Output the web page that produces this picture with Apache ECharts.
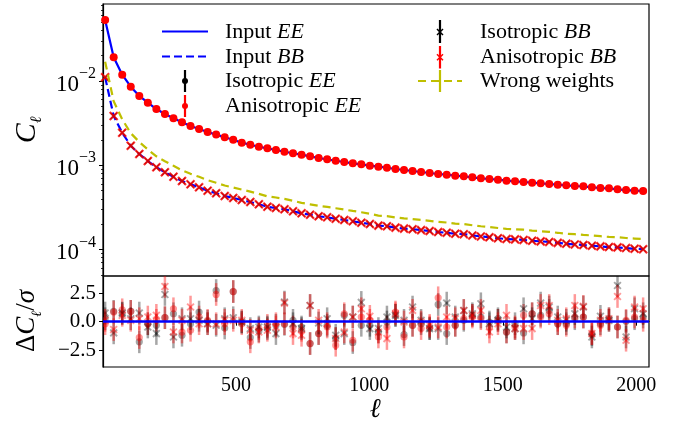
<!DOCTYPE html>
<html>
<head>
<meta charset="utf-8">
<script src="https://cdn.jsdelivr.net/npm/echarts@6/dist/echarts.min.js"></script>
<style>html,body{margin:0;padding:0;background:#fff}#c{width:683px;height:429px}</style>
</head>
<body>
<div id="c"></div>
<script>
// ---- data ----
const ell = [10,42,74,106,138,170,202,234,266,298,330,362,394,426,458,490,522,554,586,618,650,682,714,746,778,810,842,874,906,938,970,1002,1034,1066,1098,1130,1162,1194,1226,1258,1290,1322,1354,1386,1418,1450,1482,1514,1546,1578,1610,1642,1674,1706,1738,1770,1802,1834,1866,1898,1930,1962,1994,2026];
const inputEE = [0.0530,0.0191,0.01188,0.00855,0.00664,0.00553,0.00465,0.00406,0.00361,0.00324,
 0.00292,0.00269,0.00248,0.00231,0.00215,0.00201,0.001853,0.001754,0.001660,0.001589,
 0.001517,0.001448,0.001387,0.001335,0.001277,0.001219,0.001177,0.001132,0.001093,0.001054,
 0.001026,0.000988,0.000961,0.000935,0.000903,0.000878,0.000855,0.000832,0.000809,0.000787,
 0.000773,0.000752,0.000739,0.000719,0.000700,0.000687,0.000674,0.000656,0.000645,0.000633,
 0.000621,0.000611,0.000599,0.000588,0.000578,0.000567,0.000562,0.000547,0.000537,0.000532,
 0.000518,0.000508,0.000499,0.000495];
const inputBB = [0.01106,0.00384,0.00243,0.001706,0.001360,0.001123,0.000946,0.000825,0.000731,0.000650,
 0.000594,0.000547,0.000499,0.000465,0.000432,0.000409,0.000387,0.000366,0.000344,0.000322,
 0.000311,0.000300,0.000284,0.000269,0.000259,0.000248,0.000241,0.000232,0.000224,0.000216,
 0.000208,0.000201,0.000192,0.000189,0.000182,0.000177,0.000174,0.000170,0.000166,0.000161,
 0.000158,0.000154,0.000152,0.000147,0.000143,0.000140,0.000136,0.000133,0.000132,0.000130,
 0.000127,0.000125,0.000123,0.000120,0.000117,0.000115,0.000113,0.000111,0.000109,0.000107,
 0.000106,0.000104,0.000102,0.000101];
const wrongWeights = [0.01692,0.00576,0.00351,0.002405,0.001888,0.001539,0.001278,0.001115,0.000987,0.000871,
 0.000791,0.000729,0.000665,0.000619,0.000575,0.000545,0.000515,0.000487,0.000458,0.000428,
 0.000414,0.000399,0.000378,0.000358,0.000344,0.000330,0.000320,0.000309,0.000298,0.000287,
 0.000277,0.000265,0.000253,0.000249,0.000240,0.000234,0.000230,0.000224,0.000219,0.000213,
 0.000209,0.000203,0.000201,0.000194,0.000189,0.000185,0.000180,0.000176,0.000174,0.000172,
 0.000168,0.000165,0.000162,0.000158,0.000154,0.000152,0.000149,0.000147,0.000144,0.000141,
 0.000140,0.000137,0.000135,0.000133];
const residIsoEE = [0.26,0.91,0.70,0.91,-1.78,-0.18,-0.32,0.35,0.70,-1.20,
 -0.18,0.85,0.03,2.75,-0.56,2.66,-0.03,-1.40,-0.82,-0.61,
 -0.32,-0.23,0.12,-0.47,-1.93,-1.05,-0.32,-1.49,0.56,-1.84,
 -0.32,-0.32,-0.91,-0.03,0.56,-1.14,-0.32,-0.18,-0.61,1.52,
 -1.05,-0.32,0.12,0.56,0.41,-0.03,0.26,-0.91,-0.18,-0.99,
 0.70,0.56,0.99,-0.18,-0.18,0.26,0.41,-1.14,-0.18,0.26,
 -0.47,0.03,0.26,0.41];
const residAnisoEE = [-0.18,0.85,1.05,0.91,-1.40,-0.18,0.12,0.35,1.14,-0.91,
 -0.76,0.41,0.12,2.40,-0.18,2.66,-0.18,-1.78,-0.61,-0.32,
 -0.18,-0.18,-0.47,-0.76,-1.93,-1.05,-0.47,-2.08,0.70,-1.64,
 0.41,0.12,-1.35,-0.47,0.85,-1.35,-0.32,-0.61,-0.47,2.11,
 -0.47,-0.32,0.26,0.41,0.26,-0.47,0.12,-0.91,-0.47,0.56,
 0.70,0.41,0.70,-0.18,-0.32,0.41,0.41,-1.05,-0.32,0.12,
 -0.47,0.12,0.41,0.12];
const residIsoBB = [0.76,-0.99,0.76,0.26,0.76,-0.47,-1.05,2.40,-1.35,0.26,
 0.26,0.12,-0.18,-0.32,0.26,0.35,-0.03,-0.61,-0.47,-0.47,
 -1.05,1.73,-0.18,-0.61,1.43,-0.12,0.26,-1.20,-1.05,0.41,
 1.70,-0.61,-0.61,0.41,0.56,0.12,1.29,0.12,-0.61,-0.61,
 1.64,0.41,0.99,0.70,1.58,-0.18,0.12,-0.47,-0.61,1.14,
 0.26,1.64,1.29,0.41,0.12,0.70,1.29,-1.35,0.47,0.12,
 3.19,-1.35,1.14,0.70];
const residAnisoBB = [0.12,-0.70,0.56,0.12,0.26,0.41,0.56,3.10,-0.91,0.12,
 1.29,-0.18,-0.18,-0.18,0.12,0.12,0.12,-0.76,-0.91,-0.76,
 -0.47,1.64,-1.05,-1.20,1.43,0.12,-0.18,-1.49,-0.91,0.41,
 1.14,0.47,-0.91,-1.49,0.70,-0.03,1.00,-0.03,-0.32,-0.47,
 0.41,0.26,0.99,0.56,0.99,-0.91,-0.18,0.56,-0.61,-0.61,
 -0.61,1.43,1.43,0.12,0.26,1.43,1.35,-1.05,0.12,0.26,
 2.22,-1.64,1.29,1.14];
const xTicks = [500,1000,1500,2000];
const logMajor = [1e-4,1e-3,1e-2];
const logMinor = [5e-5,6e-5,7e-5,8e-5,9e-5,2e-4,3e-4,4e-4,5e-4,6e-4,7e-4,8e-4,9e-4,
 2e-3,3e-3,4e-3,5e-3,6e-3,7e-3,8e-3,9e-3,2e-2,3e-2,4e-2,5e-2,6e-2,7e-2,8e-2];
const residTicks = [-2.5,0,2.5];

// ---- chart ----
const SERIF = "'Liberation Serif','DejaVu Serif',serif";
const pts = arr => ell.map((l,i)=>[l,arr[i]]);
const X_PATH = 'path://M0,0L10,10M10,0L0,10';

function residSeries(name, vals, color, opacity, marker){
  return {
    type:'custom', name, xAxisIndex:1, yAxisIndex:1, clip:true, silent:true,
    data: pts(vals),
    renderItem:(params, api)=>{
      const x = api.value(0), v = api.value(1);
      const p = api.coord([x,v]), a = api.coord([x,v+1]), b = api.coord([x,v-1]);
      const ch = [{type:'line', shape:{x1:a[0],y1:a[1],x2:b[0],y2:b[1]}, style:{stroke:color,lineWidth:2.5,opacity}}];
      if (marker==='o') ch.push({type:'circle', shape:{cx:p[0],cy:p[1],r:3.6}, style:{fill:color,opacity}});
      else {
        const s=3.4;
        ch.push({type:'line', shape:{x1:p[0]-s,y1:p[1]-s,x2:p[0]+s,y2:p[1]+s}, style:{stroke:color,lineWidth:1.9,opacity}});
        ch.push({type:'line', shape:{x1:p[0]-s,y1:p[1]+s,x2:p[0]+s,y2:p[1]-s}, style:{stroke:color,lineWidth:1.9,opacity}});
      }
      return {type:'group', children:ch};
    }
  };
}

const chart = echarts.init(document.getElementById('c'), null, {renderer:'canvas'});
const legendText = (x,y,t)=>({type:'text', x, y, style:{text:t, align:'left', verticalAlign:'middle',
  rich:{r:{fontFamily:SERIF,fontSize:22,fill:'#000'}, i:{fontFamily:SERIF,fontSize:22,fontStyle:'italic',fill:'#000'}}}});
const xMark = (cx,cy,s,color)=>[
  {type:'line', shape:{x1:cx-s,y1:cy-s,x2:cx+s,y2:cy+s}, style:{stroke:color,lineWidth:1.5}},
  {type:'line', shape:{x1:cx-s,y1:cy+s,x2:cx+s,y2:cy-s}, style:{stroke:color,lineWidth:1.5}}
];

const option = {
  backgroundColor:'#fff',
  animation:false,
  grid:[
    {left:103, right:34, top:4, height:272, show:true, borderColor:'#000', borderWidth:1.2, backgroundColor:'transparent', outerBoundsMode:'none'},
    {left:103, right:34, top:276, height:91, show:true, borderColor:'#000', borderWidth:1.2, backgroundColor:'transparent', outerBoundsMode:'none'}
  ],
  xAxis:[
    {type:'value', gridIndex:0, min:2, max:2048, axisLine:{show:false}, axisTick:{show:false}, axisLabel:{show:false}, splitLine:{show:false}},
    {type:'value', gridIndex:1, min:2, max:2048, axisLine:{show:true,lineStyle:{color:'#000',width:1.2}},
     axisTick:{show:true, customValues:xTicks, length:4, lineStyle:{color:'#000',width:1}},
     axisLabel:{show:true, customValues:xTicks, margin:9, color:'#000', fontFamily:SERIF, fontSize:20,
       formatter:v=>String(v)},
     splitLine:{show:false}}
  ],
  yAxis:[
    {type:'log', gridIndex:0, position:'left', min:4.85e-5, max:0.082, logBase:10,
     axisLine:{show:true,lineStyle:{color:'#000',width:1.2}},
     axisTick:{show:true, customValues:logMajor, length:4, lineStyle:{color:'#000',width:1}},
     axisLabel:{show:true, customValues:logMajor, margin:7, color:'#000',
       formatter:v=>{const e=Math.round(Math.log10(v)); return '{b|10}{e|\u2212'+(-e)+'}';},
       rich:{b:{fontFamily:SERIF,fontSize:23,verticalAlign:'bottom',lineHeight:30},
             e:{fontFamily:SERIF,fontSize:16,verticalAlign:'top',lineHeight:30}}},
     splitLine:{show:false}},
    {type:'value', gridIndex:1, position:'left', min:-4.0, max:4.03,
     axisLine:{show:true,lineStyle:{color:'#000',width:1.2}},
     axisTick:{show:true, customValues:residTicks, length:4, lineStyle:{color:'#000',width:1}},
     axisLabel:{show:true, customValues:residTicks, margin:7, color:'#000', fontFamily:SERIF, fontSize:21,
       formatter:v=>(v<0?'\u2212':'')+Math.abs(v).toFixed(1)},
     splitLine:{show:false}},
    {type:'log', gridIndex:0, position:'left', offset:0, min:4.85e-5, max:0.082, logBase:10,
     axisLine:{show:false}, axisLabel:{show:false}, splitLine:{show:false},
     axisTick:{show:true, customValues:logMinor, length:2, lineStyle:{color:'#000',width:0.8}}}
  ],
  series:[
    {type:'line', name:'Input EE', xAxisIndex:0, yAxisIndex:0, data:pts(inputEE), showSymbol:false, symbol:'none',
     lineStyle:{color:'#0000ff', width:2.2}, z:2},
    {type:'line', name:'Input BB', xAxisIndex:0, yAxisIndex:0, data:pts(inputBB), showSymbol:false, symbol:'none',
     lineStyle:{color:'#0000ff', width:2.2, type:[8,4]}, z:2},
    {type:'scatter', name:'Isotropic EE', xAxisIndex:0, yAxisIndex:0, data:pts(inputEE), symbol:'circle', symbolSize:6.5,
     itemStyle:{color:'#000', opacity:1}, z:3},
    {type:'scatter', name:'Anisotropic EE', xAxisIndex:0, yAxisIndex:0, data:pts(inputEE), symbol:'circle', symbolSize:8,
     itemStyle:{color:'#ff0000', opacity:1}, z:4},
    {type:'scatter', name:'Isotropic BB', xAxisIndex:0, yAxisIndex:0, data:pts(inputBB), symbol:X_PATH, symbolSize:6.5,
     itemStyle:{color:'transparent', borderColor:'#000', borderWidth:1.2}, z:3},
    {type:'scatter', name:'Anisotropic BB', xAxisIndex:0, yAxisIndex:0, data:pts(inputBB), symbol:X_PATH, symbolSize:8,
     itemStyle:{color:'transparent', borderColor:'#ff0000', borderWidth:2.2}, z:4},
    {type:'line', name:'Wrong weights', xAxisIndex:0, yAxisIndex:0, data:pts(wrongWeights), showSymbol:false, symbol:'none',
     lineStyle:{color:'#bfbf00', width:2.2, type:[8,5]}, z:5},
    residSeries('Isotropic EE res', residIsoEE, '#000000', 0.35, 'o'),
    residSeries('Anisotropic EE res', residAnisoEE, '#ff0000', 0.4, 'o'),
    residSeries('Isotropic BB res', residIsoBB, '#000000', 0.35, 'x'),
    residSeries('Anisotropic BB res', residAnisoBB, '#ff0000', 0.4, 'x'),
    {type:'line', name:'zero', xAxisIndex:1, yAxisIndex:1, data:[], z:10,
     markLine:{silent:true, symbol:'none', label:{show:false}, data:[{yAxis:0}],
       lineStyle:{color:'#0000ff', width:2.5, type:'solid'}, emphasis:{disabled:true}}}
  ],
  graphic:[
    // legend column 1
    {type:'line', shape:{x1:162,y1:31.5,x2:208,y2:31.5}, style:{stroke:'#0000ff',lineWidth:2.2}},
    legendText(225,32,'{r|Input }{i|EE}'),
    {type:'line', shape:{x1:162,y1:56.5,x2:208,y2:56.5}, style:{stroke:'#0000ff',lineWidth:2.2,lineDash:[8,4]}},
    legendText(225,57,'{r|Input }{i|BB}'),
    {type:'line', shape:{x1:185,y1:70,x2:185,y2:92}, style:{stroke:'#000',lineWidth:2.2}},
    {type:'circle', shape:{cx:185,cy:81,r:3}, style:{fill:'#000'}},
    legendText(225,81,'{r|Isotropic }{i|EE}'),
    {type:'line', shape:{x1:185,y1:95,x2:185,y2:117}, style:{stroke:'#ff0000',lineWidth:2.2}},
    {type:'circle', shape:{cx:185,cy:106,r:3}, style:{fill:'#ff0000'}},
    legendText(225,106,'{r|Anisotropic }{i|EE}'),
    // legend column 2
    {type:'line', shape:{x1:440,y1:20,x2:440,y2:43}, style:{stroke:'#000',lineWidth:2.2}},
    ...xMark(440,32,3,'#000'),
    legendText(480,32,'{r|Isotropic }{i|BB}'),
    {type:'line', shape:{x1:440,y1:46,x2:440,y2:68.5}, style:{stroke:'#ff0000',lineWidth:2.2}},
    ...xMark(440,57.3,3,'#ff0000'),
    legendText(480,57,'{r|Anisotropic }{i|BB}'),
    {type:'line', shape:{x1:418,y1:81,x2:462,y2:81}, style:{stroke:'#bfbf00',lineWidth:2.2,lineDash:[8,5]}},
    {type:'line', shape:{x1:440,y1:70,x2:440,y2:92}, style:{stroke:'#bfbf00',lineWidth:2.2}},
    legendText(480,81,'{r|Wrong weights}'),
    // axis titles
    {type:'text', x:375, y:410, style:{text:'\u2113', align:'center', verticalAlign:'middle',
      font:"italic 27px 'DejaVu Serif',serif", fill:'#000'}},
    {type:'text', x:27, y:130, rotation:Math.PI/2, style:{text:'{c|C}{s|\u2113}', align:'center', verticalAlign:'middle',
      rich:{c:{fontFamily:SERIF,fontSize:30,fontStyle:'italic',fill:'#000',verticalAlign:'middle',lineHeight:36},
            s:{fontFamily:"'DejaVu Serif',serif",fontSize:16,fontStyle:'italic',fill:'#000',verticalAlign:'bottom',lineHeight:36}}}},
    {type:'text', x:27, y:321, rotation:Math.PI/2, style:{text:'{d|\u0394}{c|C}{s|\u2113}{d|/}{c|\u03c3}', align:'center', verticalAlign:'middle',
      rich:{d:{fontFamily:SERIF,fontSize:27,fill:'#000',verticalAlign:'middle',lineHeight:34},
            c:{fontFamily:SERIF,fontSize:27,fontStyle:'italic',fill:'#000',verticalAlign:'middle',lineHeight:34},
            s:{fontFamily:"'DejaVu Serif',serif",fontSize:14,fontStyle:'italic',fill:'#000',verticalAlign:'bottom',lineHeight:34}}}}
  ]
};
chart.setOption(option);
</script>
</body>
</html>
